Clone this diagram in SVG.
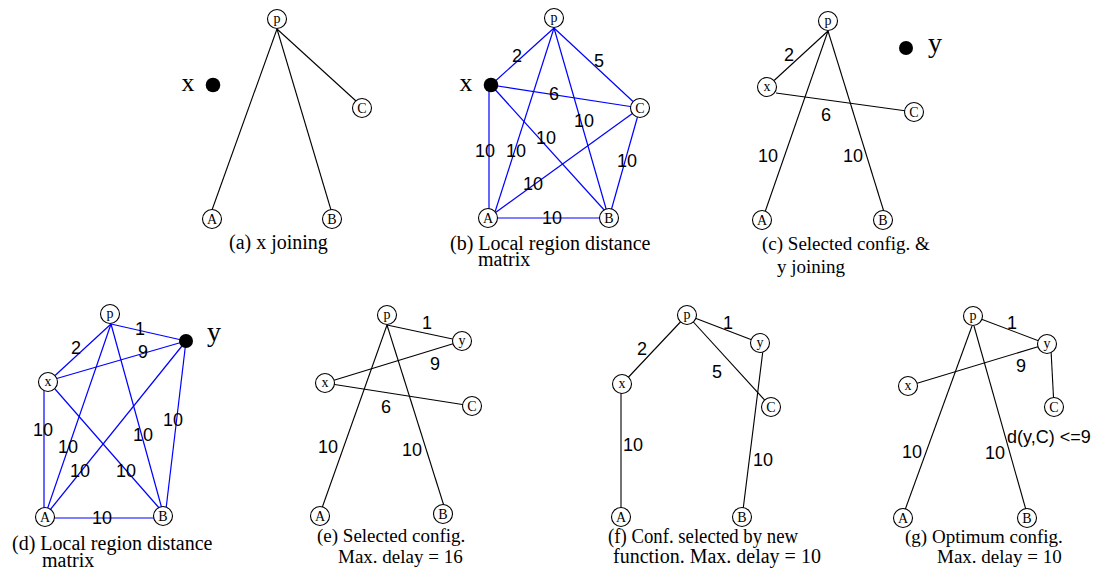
<svg xmlns="http://www.w3.org/2000/svg" width="1109" height="576" viewBox="0 0 1109 576">
<style>
.bk{stroke:#000;stroke-width:1.1;fill:none}
.bl{stroke:#0000ff;stroke-width:1.2;fill:none}
.nd{fill:#fff;stroke:#000;stroke-width:1.1}
.dot{fill:#000}
.nl{font-family:"Liberation Serif",serif;font-size:14px;text-anchor:middle;fill:#000}
.big{font-family:"Liberation Serif",serif;font-size:26px;text-anchor:middle;fill:#000}
.el{font-family:"Liberation Sans",Arial,sans-serif;font-size:18px;text-anchor:middle;fill:#000}
.cap{font-family:"Liberation Serif",serif;font-size:20px;fill:#000}
.cap19{font-family:"Liberation Serif",serif;font-size:19px;fill:#000}
</style>
<g id="connectors">
<!-- (a) -->
<line class="bk" x1="277" y1="29" x2="212" y2="210"/>
<line class="bk" x1="277" y1="29" x2="331" y2="210"/>
<line class="bk" x1="277" y1="29" x2="356" y2="101"/>
<!-- (b) -->
<line class="bl" x1="491" y1="85" x2="554" y2="28"/>
<line class="bl" x1="554" y1="28" x2="640" y2="108"/>
<line class="bl" x1="491" y1="85" x2="640" y2="108"/>
<line class="bl" x1="489" y1="85" x2="489" y2="218"/>
<line class="bl" x1="554" y1="28" x2="495" y2="212"/>
<line class="bl" x1="491" y1="85" x2="606" y2="212"/>
<line class="bl" x1="554" y1="28" x2="607" y2="212"/>
<line class="bl" x1="488" y1="218" x2="640" y2="108"/>
<line class="bl" x1="640" y1="108" x2="609" y2="218"/>
<line class="bl" x1="488" y1="218" x2="609" y2="218"/>
<!-- (c) -->
<line class="bk" x1="828" y1="31" x2="767" y2="87"/>
<line class="bk" x1="776" y1="93" x2="914" y2="112"/>
<line class="bk" x1="828" y1="31" x2="765" y2="212"/>
<line class="bk" x1="828" y1="31" x2="884" y2="212"/>
<!-- (d) -->
<line class="bl" x1="111" y1="324" x2="186" y2="341"/>
<line class="bl" x1="111" y1="324" x2="48" y2="382"/>
<line class="bl" x1="55" y1="379" x2="186" y2="341"/>
<line class="bl" x1="44" y1="382" x2="44" y2="517"/>
<line class="bl" x1="111" y1="324" x2="47" y2="510"/>
<line class="bl" x1="50" y1="510" x2="186" y2="341"/>
<line class="bl" x1="55" y1="389" x2="160" y2="509"/>
<line class="bl" x1="111" y1="324" x2="162" y2="509"/>
<line class="bl" x1="186" y1="341" x2="166" y2="509"/>
<line class="bl" x1="45" y1="518" x2="163" y2="518"/>
<!-- (e) -->
<line class="bk" x1="387" y1="325" x2="462" y2="341"/>
<line class="bk" x1="325" y1="383" x2="462" y2="341"/>
<line class="bk" x1="325" y1="383" x2="472" y2="406"/>
<line class="bk" x1="387" y1="325" x2="322" y2="508"/>
<line class="bk" x1="387" y1="325" x2="444" y2="506"/>
<!-- (f) -->
<line class="bk" x1="687" y1="315" x2="760" y2="343"/>
<line class="bk" x1="687" y1="315" x2="622" y2="384"/>
<line class="bk" x1="687" y1="315" x2="771" y2="407"/>
<line class="bk" x1="621" y1="384" x2="621" y2="517"/>
<line class="bk" x1="763" y1="350" x2="743" y2="510"/>
<!-- (g) -->
<line class="bk" x1="973" y1="316" x2="1047" y2="344"/>
<line class="bk" x1="908" y1="386" x2="1047" y2="344"/>
<line class="bk" x1="1051" y1="350" x2="1054" y2="407"/>
<line class="bk" x1="972" y1="326" x2="905" y2="510"/>
<line class="bk" x1="974" y1="326" x2="1026" y2="510"/>
</g>
<g id="edge-labels">
<text class="el" x="517" y="62">2</text>
<text class="el" x="599" y="67">5</text>
<text class="el" x="554" y="100">6</text>
<text class="el" x="485" y="157">10</text>
<text class="el" x="516" y="157">10</text>
<text class="el" x="546" y="144">10</text>
<text class="el" x="584" y="127">10</text>
<text class="el" x="533" y="190">10</text>
<text class="el" x="627" y="167">10</text>
<text class="el" x="552" y="224">10</text>
<text class="el" x="789" y="61">2</text>
<text class="el" x="826" y="121">6</text>
<text class="el" x="768" y="162">10</text>
<text class="el" x="853" y="162">10</text>
<text class="el" x="140" y="335">1</text>
<text class="el" x="76" y="354">2</text>
<text class="el" x="143" y="358">9</text>
<text class="el" x="43" y="436">10</text>
<text class="el" x="68" y="453">10</text>
<text class="el" x="80" y="477">10</text>
<text class="el" x="126" y="477">10</text>
<text class="el" x="143" y="441">10</text>
<text class="el" x="173" y="426">10</text>
<text class="el" x="102" y="524">10</text>
<text class="el" x="427" y="329">1</text>
<text class="el" x="435" y="370">9</text>
<text class="el" x="386" y="413">6</text>
<text class="el" x="328" y="453">10</text>
<text class="el" x="412" y="456">10</text>
<text class="el" x="728" y="329">1</text>
<text class="el" x="642" y="355">2</text>
<text class="el" x="717" y="378">5</text>
<text class="el" x="633" y="451">10</text>
<text class="el" x="763" y="466">10</text>
<text class="el" x="1012" y="329">1</text>
<text class="el" x="1021" y="372">9</text>
<text class="el" x="912" y="458">10</text>
<text class="el" x="995" y="459">10</text>
<text class="el" x="1007" y="443" style="text-anchor:start">d(y,C) &lt;=9</text>
</g>
<!-- panel (a) nodes -->
<g id="a-p"><circle class="nd" cx="277" cy="19" r="9.5"/><text class="nl" x="277" y="23">p</text></g>
<g id="a-x"><circle class="dot" cx="213" cy="85" r="7.3"/><text class="big" x="188" y="91">x</text></g>
<g id="a-C"><circle class="nd" cx="362" cy="108" r="9.5"/><text class="nl" x="362" y="113">C</text></g>
<g id="a-A"><circle class="nd" cx="212" cy="219" r="9.5"/><text class="nl" x="212" y="224">A</text></g>
<g id="a-B"><circle class="nd" cx="332" cy="219" r="9.5"/><text class="nl" x="332" y="224">B</text></g>
<!-- panel (b) -->
<g id="b-p"><circle class="nd" cx="554" cy="18" r="9.5"/><text class="nl" x="554" y="22">p</text></g>
<g id="b-x"><circle class="dot" cx="491" cy="85" r="7.3"/><text class="big" x="466" y="91">x</text></g>
<g id="b-C"><circle class="nd" cx="640" cy="108" r="9.5"/><text class="nl" x="640" y="113">C</text></g>
<g id="b-A"><circle class="nd" cx="488" cy="218" r="9.5"/><text class="nl" x="488" y="223">A</text></g>
<g id="b-B"><circle class="nd" cx="609" cy="218" r="9.5"/><text class="nl" x="609" y="223">B</text></g>
<!-- panel (c) -->
<g id="c-p"><circle class="nd" cx="828" cy="21" r="9.5"/><text class="nl" x="828" y="25">p</text></g>
<g id="c-y"><circle class="dot" cx="906" cy="48" r="7"/><text class="big" x="935" y="52" style="font-size:28px">y</text></g>
<g id="c-x"><circle class="nd" cx="767" cy="87" r="9.5"/><text class="nl" x="767" y="91">x</text></g>
<g id="c-C"><circle class="nd" cx="914" cy="112" r="9.5"/><text class="nl" x="914" y="117">C</text></g>
<g id="c-A"><circle class="nd" cx="762" cy="220" r="9.5"/><text class="nl" x="762" y="225">A</text></g>
<g id="c-B"><circle class="nd" cx="883" cy="220" r="9.5"/><text class="nl" x="883" y="225">B</text></g>
<!-- panel (d) -->
<g id="d-p"><circle class="nd" cx="110" cy="314" r="9.5"/><text class="nl" x="110" y="318">p</text></g>
<g id="d-y"><circle class="dot" cx="186" cy="341" r="7"/><text class="big" x="214" y="341" style="font-size:28px">y</text></g>
<g id="d-x"><circle class="nd" cx="48" cy="382" r="9.5"/><text class="nl" x="48" y="386">x</text></g>
<g id="d-A"><circle class="nd" cx="45" cy="517" r="9.5"/><text class="nl" x="45" y="522">A</text></g>
<g id="d-B"><circle class="nd" cx="163" cy="516" r="9.5"/><text class="nl" x="163" y="521">B</text></g>
<!-- panel (e) -->
<g id="e-p"><circle class="nd" cx="387" cy="315" r="9.5"/><text class="nl" x="387" y="319">p</text></g>
<g id="e-y"><circle class="nd" cx="462" cy="341" r="9.5"/><text class="nl" x="462" y="345">y</text></g>
<g id="e-x"><circle class="nd" cx="325" cy="383" r="9.5"/><text class="nl" x="325" y="387">x</text></g>
<g id="e-C"><circle class="nd" cx="472" cy="406" r="9.5"/><text class="nl" x="472" y="411">C</text></g>
<g id="e-A"><circle class="nd" cx="320" cy="516" r="9.5"/><text class="nl" x="320" y="521">A</text></g>
<g id="e-B"><circle class="nd" cx="443" cy="514" r="9.5"/><text class="nl" x="443" y="519">B</text></g>
<!-- panel (f) -->
<g id="f-p"><circle class="nd" cx="687" cy="315" r="9.5"/><text class="nl" x="687" y="319">p</text></g>
<g id="f-y"><circle class="nd" cx="760" cy="343" r="9.5"/><text class="nl" x="760" y="347">y</text></g>
<g id="f-x"><circle class="nd" cx="622" cy="384" r="9.5"/><text class="nl" x="622" y="388">x</text></g>
<g id="f-C"><circle class="nd" cx="771" cy="407" r="9.5"/><text class="nl" x="771" y="412">C</text></g>
<g id="f-A"><circle class="nd" cx="621" cy="517" r="9.5"/><text class="nl" x="621" y="522">A</text></g>
<g id="f-B"><circle class="nd" cx="742" cy="517" r="9.5"/><text class="nl" x="742" y="522">B</text></g>
<!-- panel (g) -->
<g id="g-p"><circle class="nd" cx="973" cy="316" r="9.5"/><text class="nl" x="973" y="320">p</text></g>
<g id="g-y"><circle class="nd" cx="1047" cy="344" r="9.5"/><text class="nl" x="1047" y="348">y</text></g>
<g id="g-x"><circle class="nd" cx="908" cy="386" r="9.5"/><text class="nl" x="908" y="390">x</text></g>
<g id="g-C"><circle class="nd" cx="1054" cy="407" r="9.5"/><text class="nl" x="1054" y="412">C</text></g>
<g id="g-A"><circle class="nd" cx="903" cy="518" r="9.5"/><text class="nl" x="903" y="523">A</text></g>
<g id="g-B"><circle class="nd" cx="1027" cy="518" r="9.5"/><text class="nl" x="1027" y="523">B</text></g>
<g id="captions">
<text class="cap" x="229" y="249">(a) x joining</text>
<text class="cap" x="450" y="250">(b) Local region distance</text>
<text class="cap" x="478" y="266">matrix</text>
<text class="cap19" x="762" y="250">(c) Selected config. &amp;</text>
<text class="cap19" x="777" y="273">y joining</text>
<text class="cap" x="12" y="550">(d) Local region distance</text>
<text class="cap" x="42" y="567">matrix</text>
<text class="cap19" x="317" y="542">(e) Selected config.</text>
<text class="cap19" x="338" y="563">Max. delay = 16</text>
<text class="cap" x="608" y="543" textLength="190" lengthAdjust="spacingAndGlyphs">(f) Conf. selected by new</text>
<text class="cap" x="613" y="563">function. Max. delay = 10</text>
<text class="cap19" x="905" y="543">(g) Optimum config.</text>
<text class="cap19" x="937" y="563">Max. delay = 10</text>
</g>
</svg>
